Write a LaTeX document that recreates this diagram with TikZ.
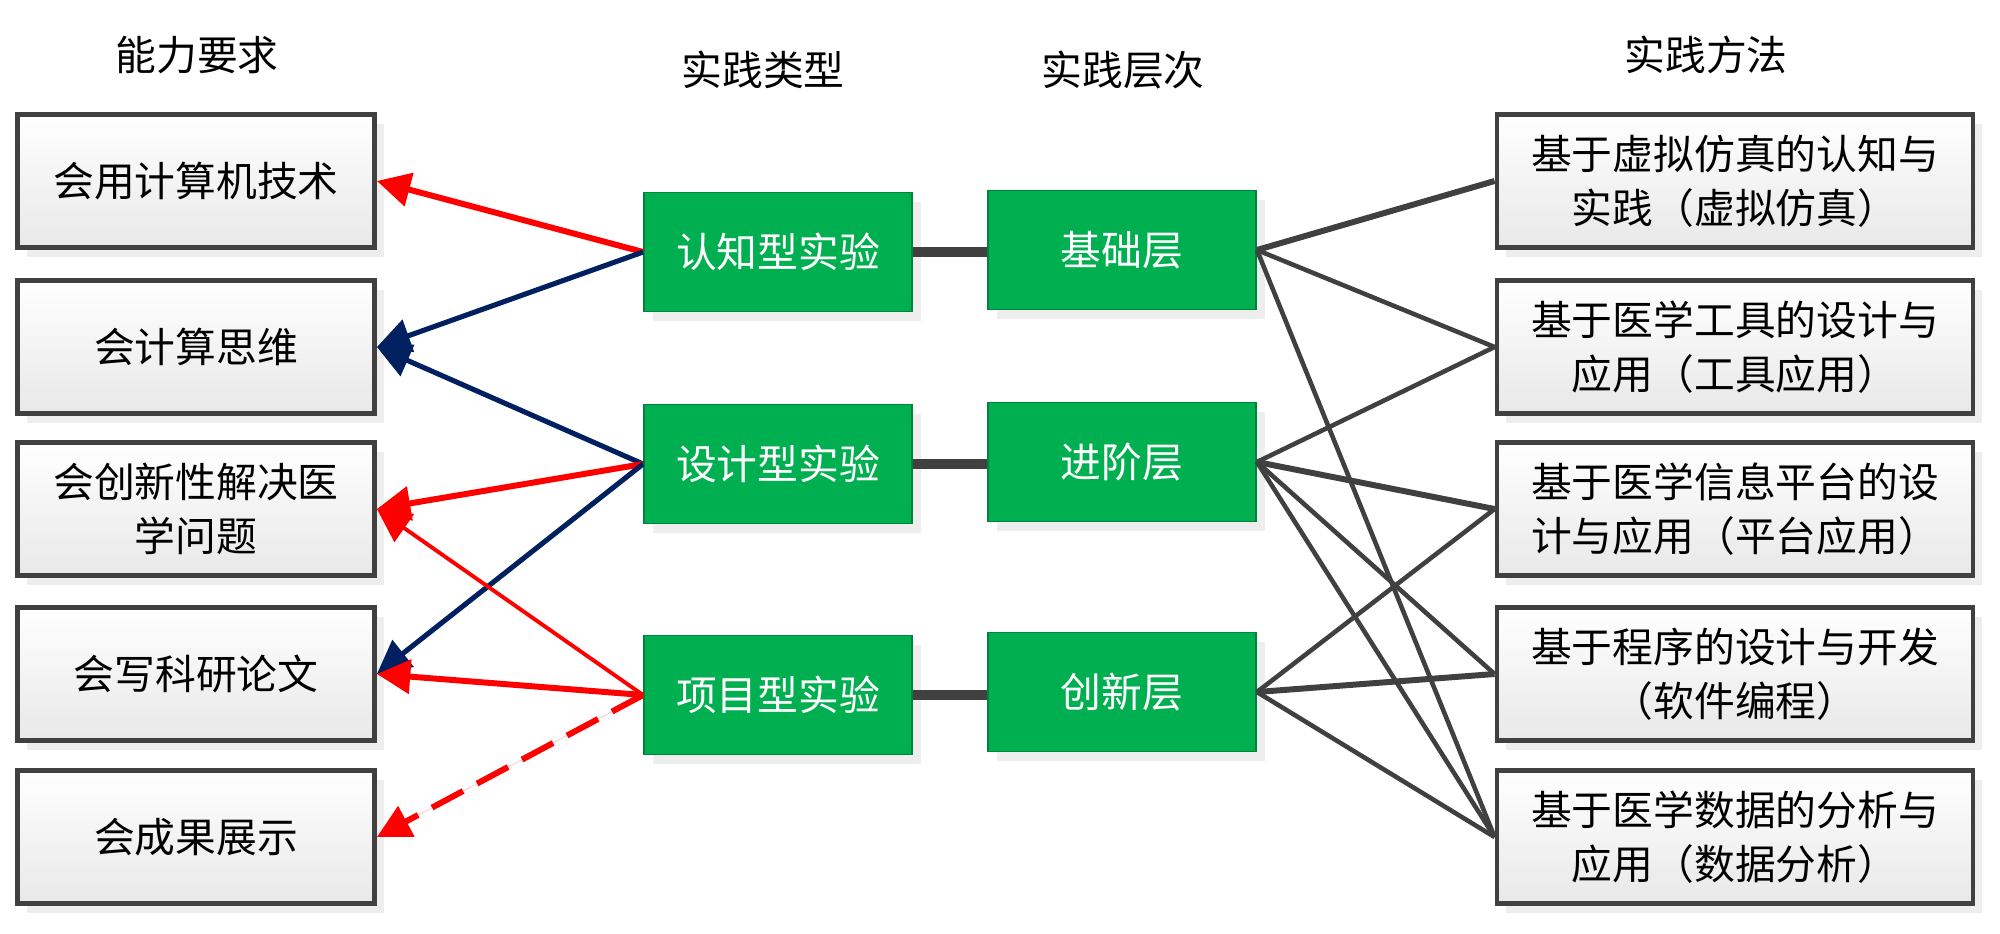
\documentclass[tikz,border=0pt]{standalone}
\usepackage{fontspec}
\setmainfont{Noto Sans CJK SC}
\usetikzlibrary{arrows.meta,shadows}
\definecolor{navyc}{HTML}{002060}
\definecolor{dgray}{HTML}{404040}
\definecolor{okgreen}{HTML}{00B050}
\begin{document}
\begin{tikzpicture}[x=0.01cm,y=-0.01cm,
  txt/.style={font=\fontsize{11.6pt}{15.4pt}\selectfont},
  shad/.style={drop shadow={shadow xshift=2.6pt,shadow yshift=-2.8pt,fill=black!13}},
  graybox/.style={txt, shad, draw=dgray, line width=1.3pt, top color=white, bottom color=black!9,
    align=center, inner sep=0pt, minimum height=1.33cm},
  lbox/.style={graybox, minimum width=3.57cm},
  rbox/.style={graybox, minimum width=4.76cm},
  gbox/.style={txt, shad, fill=okgreen, draw=okgreen!75!black, line width=0.5pt, text=white,
    minimum width=2.68cm, minimum height=1.19cm, inner sep=0pt},
  hdr/.style={txt},
  tip/.style={-{Triangle[length=9.5pt,width=9.5pt]}},
  redA/.style={tip, draw=red, fill=red, line width=1.7pt},
  redthin/.style={tip, draw=red, fill=red, line width=1.1pt},
  navyA/.style={tip, draw=navyc, fill=navyc, line width=1.45pt},
  gline/.style={draw=dgray, line width=1.3pt},
  glthick/.style={draw=dgray, line width=1.7pt},
  link/.style={draw=dgray, line width=2.6pt}
]
\useasboundingbox (0,0) rectangle (2000,933);
% headers
\node[hdr] (h1) at (197,55) {能力要求};
\node[hdr] (h2) at (763,70) {实践类型};
\node[hdr] (h3) at (1123,70) {实践层次};
\node[hdr] (h4) at (1706,55) {实践方法};
% left boxes
\node[lbox] (a1) at (196,181) {会用计算机技术};
\node[lbox] (a2) at (196,347) {会计算思维};
\node[lbox] (a3) at (196,509) {会创新性解决医\\学问题};
\node[lbox] (a4) at (196,674) {会写科研论文};
\node[lbox] (a5) at (196,837) {会成果展示};
% right boxes
\node[rbox] (m1) at (1735,181) {基于虚拟仿真的认知与\\实践（虚拟仿真）};
\node[rbox] (m2) at (1735,347) {基于医学工具的设计与\\应用（工具应用）};
\node[rbox] (m3) at (1735,509) {基于医学信息平台的设\\计与应用（平台应用）};
\node[rbox] (m4) at (1735,674) {基于程序的设计与开发\\（软件编程）};
\node[rbox] (m5) at (1735,837) {基于医学数据的分析与\\应用（数据分析）};
% type boxes
\node[gbox] (t1) at (778,252) {认知型实验};
\node[gbox] (t2) at (778,464) {设计型实验};
\node[gbox] (t3) at (778,695) {项目型实验};
% level boxes
\node[gbox] (l1) at (1122,250) {基础层};
\node[gbox] (l2) at (1122,462) {进阶层};
\node[gbox] (l3) at (1122,692) {创新层};
% type-level links
\draw[link] (t1.east) -- (t1.east -| l1.west);
\draw[link] (t2.east) -- (t2.east -| l2.west);
\draw[link] (t3.east) -- (t3.east -| l3.west);
% right connectors
\draw[glthick] (l1.east) -- (m1.west);
\draw[gline] (l1.east) -- (m2.west);
\draw[gline] (l1.east) -- (m5.west);
\draw[gline] (l2.east) -- (m2.west);
\draw[glthick] (l2.east) -- (m3.west);
\draw[gline] (l2.east) -- (m4.west);
\draw[gline] (l2.east) -- (m5.west);
\draw[gline] (l3.east) -- (m3.west);
\draw[glthick] (l3.east) -- (m4.west);
\draw[gline] (l3.east) -- (m5.west);
% left arrows
\draw[redA] (t1.west) -- (a1.east);
\draw[navyA] (t1.west) -- (a2.east);
\draw[navyA] (t2.west) -- (a2.east);
\draw[redA] (t2.west) -- (a3.east);
\draw[navyA] (t2.west) -- (a4.east);
\draw[redthin] (t3.west) -- (a3.east);
\draw[redA] (t3.west) -- (a4.east);
\draw[redA, dash pattern=on 10pt off 4.5pt] (t3.west) -- (a5.east);
\end{tikzpicture}
\end{document}
